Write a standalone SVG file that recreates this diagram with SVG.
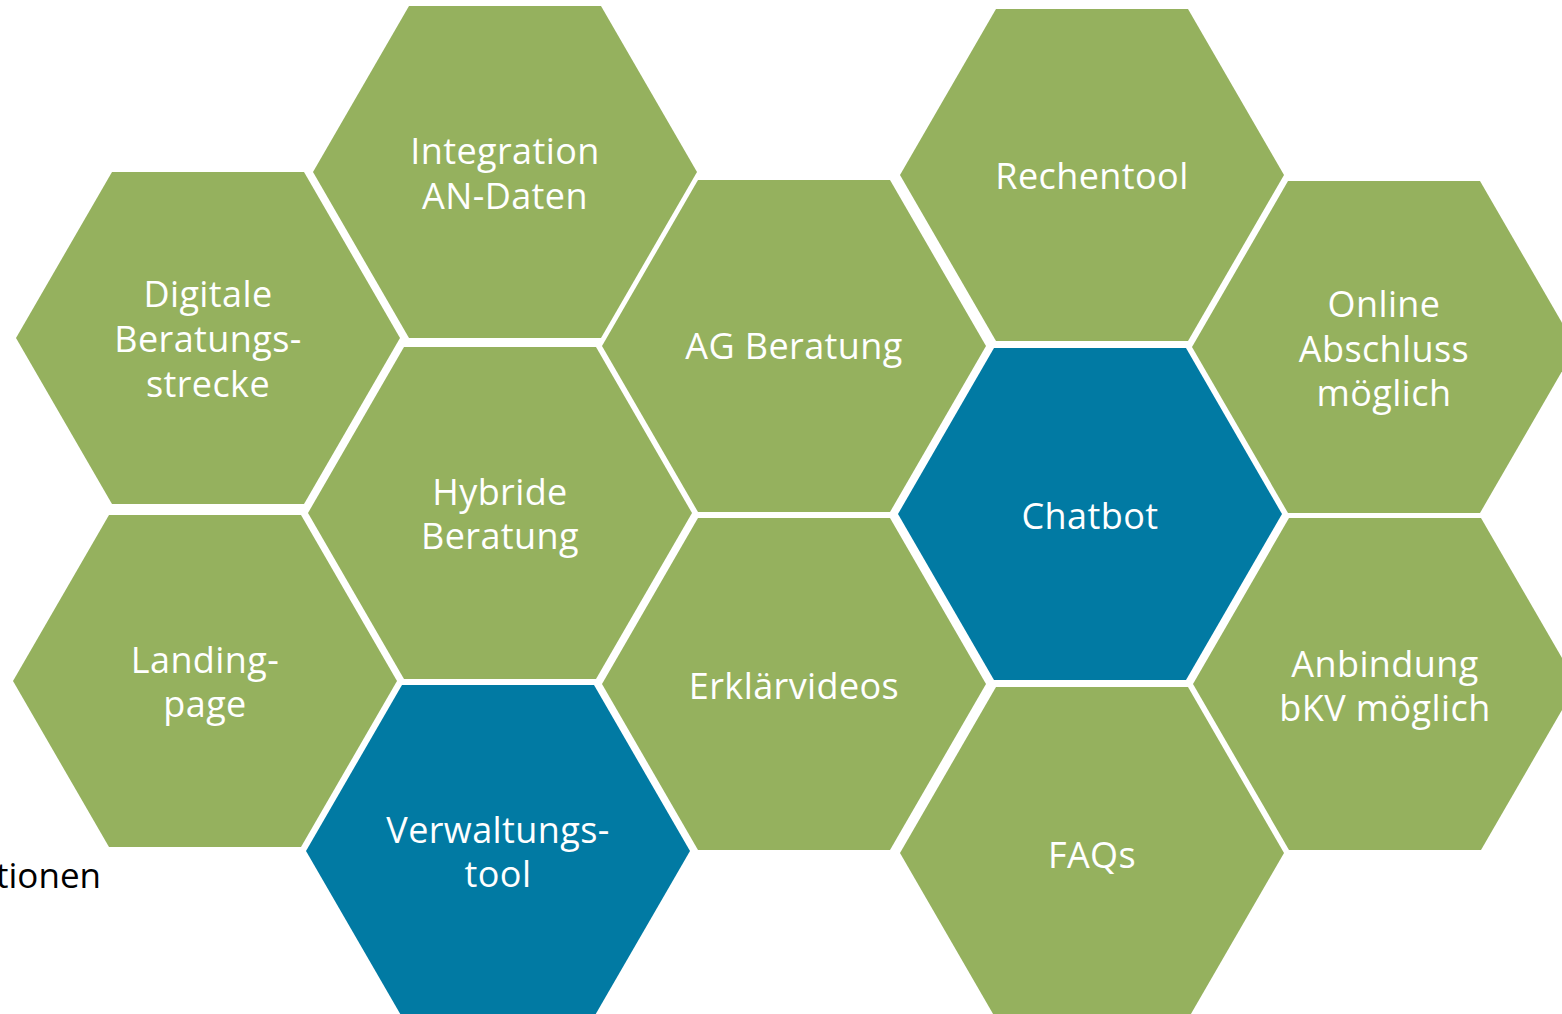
<svg xmlns="http://www.w3.org/2000/svg" xmlns:xlink="http://www.w3.org/1999/xlink" width="1562" height="1014" viewBox="0 0 1562 1014">
<style>
.g{fill:#95B15E}
.b{fill:#017AA3}
.t{fill:#ffffff;font-family:"Open Sans","Noto Sans","Liberation Sans",sans-serif;font-size:36px;font-weight:400;letter-spacing:0.4px;text-anchor:middle}
.k{fill:#000000;font-family:"Open Sans","Noto Sans","Liberation Sans",sans-serif;font-size:35px;font-weight:400;text-anchor:end}
</style>
<defs>
<path id="hex" d="M-192,0 L-96,-166 L96,-166 L192,0 L96,166 L-96,166 Z"/>
</defs>
<rect width="1562" height="1014" fill="#ffffff"/>
<g id="connectors"/>
<text class="k" x="101" y="888">tionen</text>
<g id="integration">
<use href="#hex" xlink:href="#hex" class="g" transform="translate(505,172)"/>
<text class="t" x="505" y="164">Integration</text>
<text class="t" x="505" y="209">AN-Daten</text>
</g>
<g id="digitale">
<use href="#hex" xlink:href="#hex" class="g" transform="translate(208,338)"/>
<text class="t" x="208" y="307">Digitale</text>
<text class="t" x="208" y="352">Beratungs-</text>
<text class="t" x="208" y="397">strecke</text>
</g>
<g id="hybride">
<use href="#hex" xlink:href="#hex" class="g" transform="translate(500,513)"/>
<text class="t" x="500" y="505">Hybride</text>
<text class="t" x="500" y="549">Beratung</text>
</g>
<g id="landing">
<use href="#hex" xlink:href="#hex" class="g" transform="translate(205,681)"/>
<text class="t" x="205" y="673">Landing-</text>
<text class="t" x="205" y="717">page</text>
</g>
<g id="verwaltung">
<use href="#hex" xlink:href="#hex" class="b" transform="translate(498,851)"/>
<text class="t" x="498" y="843">Verwaltungs-</text>
<text class="t" x="498" y="887">tool</text>
</g>
<g id="ag">
<use href="#hex" xlink:href="#hex" class="g" transform="translate(794,346)"/>
<text class="t" x="794" y="359">AG Beratung</text>
</g>
<g id="erklaer">
<use href="#hex" xlink:href="#hex" class="g" transform="translate(794,684)"/>
<text class="t" x="794" y="699">Erklärvideos</text>
</g>
<g id="rechentool">
<use href="#hex" xlink:href="#hex" class="g" transform="translate(1092,175)"/>
<text class="t" x="1092" y="189">Rechentool</text>
</g>
<g id="chatbot">
<use href="#hex" xlink:href="#hex" class="b" transform="translate(1090,514)"/>
<text class="t" x="1090" y="529">Chatbot</text>
</g>
<g id="faqs">
<use href="#hex" xlink:href="#hex" class="g" transform="translate(1092,853)"/>
<text class="t" x="1092" y="868">FAQs</text>
</g>
<g id="online">
<use href="#hex" xlink:href="#hex" class="g" transform="translate(1384,347)"/>
<text class="t" x="1384" y="317">Online</text>
<text class="t" x="1384" y="362">Abschluss</text>
<text class="t" x="1384" y="406">möglich</text>
</g>
<g id="anbindung">
<use href="#hex" xlink:href="#hex" class="g" transform="translate(1385,684)"/>
<text class="t" x="1385" y="677">Anbindung</text>
<text class="t" x="1385" y="721">bKV möglich</text>
</g>
</svg>
